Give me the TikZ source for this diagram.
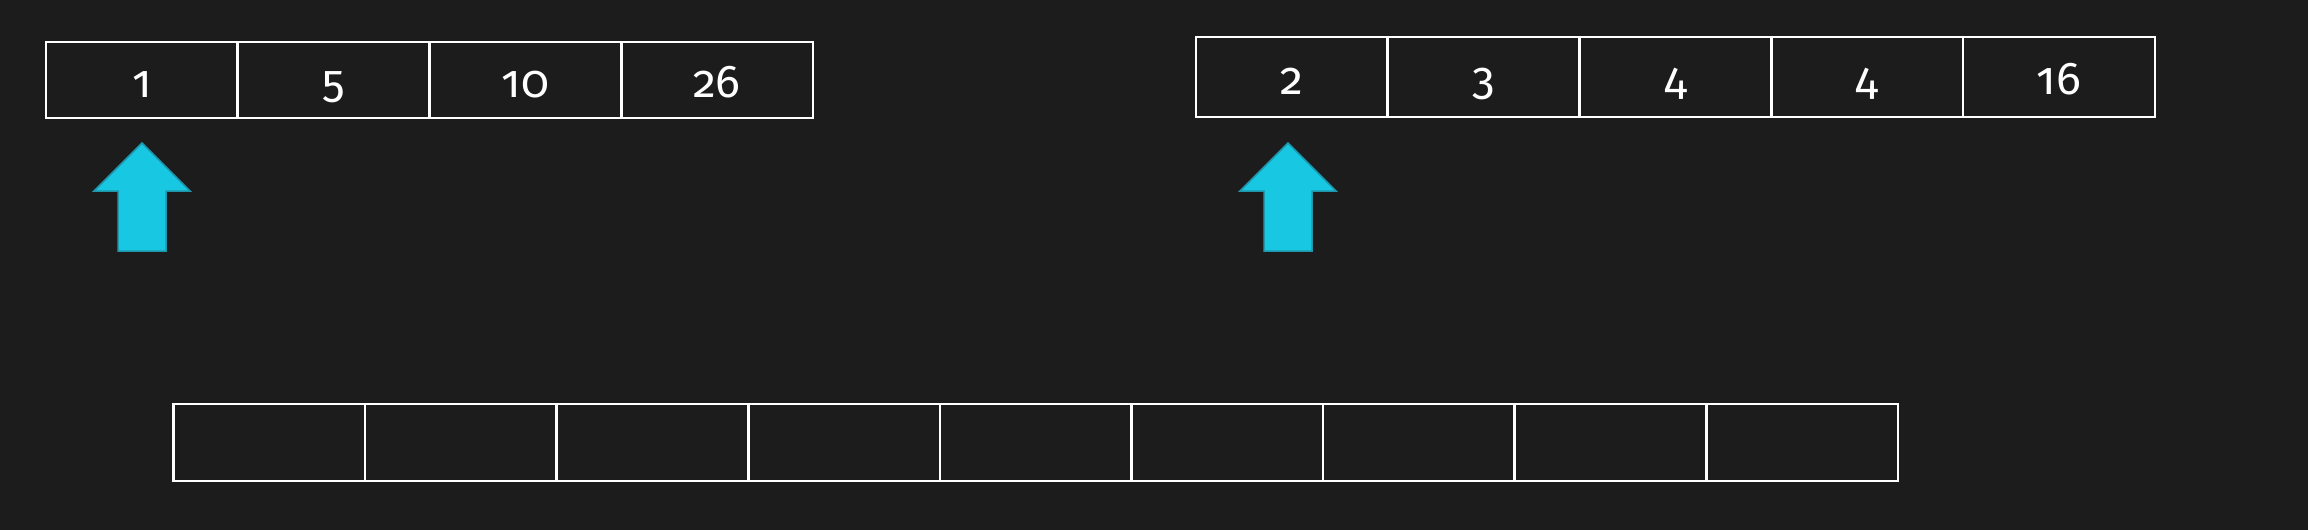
\documentclass[tikz,border=0pt]{standalone}
\usepackage{fontspec}
\setmainfont{Fira Sans}[Numbers=OldStyle]
\definecolor{board}{RGB}{28,28,29}
\definecolor{arrowfill}{RGB}{24,200,226}
\definecolor{arrowline}{RGB}{30,150,172}
\begin{document}
\begin{tikzpicture}[x=1pt,y=-1pt,
  cell/.style={draw=white, line width=2.5pt, minimum width=191.7pt, inner sep=0pt,
    text=white, font=\fontsize{46}{54}\selectfont, text height=34pt, text depth=0pt},
  upmark/.style={fill=arrowfill, draw=arrowline, line width=1.5pt, line join=miter}]
\fill[board] (0,0) rectangle (2308,530);
\useasboundingbox (0,0) rectangle (2308,530);
% left array
\foreach \v [count=\i from 0] in {1,5,10,26}
  \node[cell, minimum height=76pt] (a\i) at ({46+191.75*(\i+0.5)},80) {\v};
% right array
\foreach \v [count=\i from 0] in {2,3,4,4,16}
  \node[cell, minimum height=80pt] (b\i) at ({1196+191.75*(\i+0.5)},77) {\v};
% bottom array
\foreach \i in {0,...,8}
  \node[cell, minimum height=77pt] (c\i) at ({173.5+191.6*(\i+0.5)},442.5) {};
% pointer arrows
\coordinate (tipA) at (142,143);
\coordinate (tipB) at (1288,143);
\foreach \t in {tipA,tipB}
  \draw[upmark, shift={(\t)}] (0,0) -- (48,48) -- (24,48) -- (24,108) -- (-24,108) -- (-24,48) -- (-48,48) -- cycle;
\end{tikzpicture}
\end{document}
